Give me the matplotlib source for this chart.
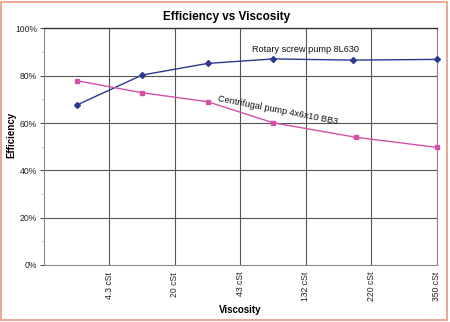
import matplotlib
matplotlib.use("Agg")
import matplotlib.pyplot as plt
from matplotlib.patches import Rectangle
from matplotlib.ticker import MultipleLocator, FuncFormatter

plt.rcParams['font.family'] = ['Liberation Sans', 'DejaVu Sans']

# Data (x in category-grid units, y in %)
categories = ["4.3 cSt", "20 cSt", "43 cSt", "132 cSt", "220 cSt", "350 cSt"]
rotary_x = [0.5, 1.5, 2.5, 3.5, 4.71, 6.0]
rotary_eff = [67.6, 80.3, 85.2, 87.1, 86.6, 86.9]
centrifugal_x = [0.5, 1.5, 2.5, 3.5, 4.76, 6.0]
centrifugal_eff = [77.9, 72.8, 69.0, 60.1, 54.0, 49.7]

fig = plt.figure(figsize=(4.5, 3.22), dpi=100)
fig.patch.set_facecolor('white')
ax = fig.add_axes([44/450, 57/322, (437-44)/450, (265-28.4)/322])

ax.set_xlim(0, 6)
ax.set_ylim(0, 100)

# grid
for k in range(1, 7):
    ax.axvline(k, color='#555555', lw=0.8, zorder=1)
for v in range(20, 100, 20):
    ax.axhline(v, color='#555555', lw=0.8, zorder=1)

ax.plot(rotary_x, rotary_eff, color='#2B3990', lw=1.0, marker='D', ms=3,
        zorder=3, clip_on=False)
ax.plot(centrifugal_x, centrifugal_eff, color='#D64FA8', lw=1.0, marker='s', ms=3.5,
        zorder=3, clip_on=False)

ax.annotate("Rotary screw pump 8L630", xy=(306/450, 1-50/322), xycoords='figure fraction',
            fontsize=6.6, ha='center', va='center', color='#111111')
ax.annotate("Centrifugal pump 4x6x10 BB3", xy=(278/450, 1-110/322), xycoords='figure fraction',
            fontsize=6.6, ha='center', va='center', rotation=-11, color='#111111')

ax.set_xticks(range(1, 7))
ax.set_xticklabels(categories, rotation=90, fontsize=6.2, color='#222222')
ax.yaxis.set_major_locator(MultipleLocator(20))
ax.yaxis.set_minor_locator(MultipleLocator(10))
ax.yaxis.set_major_formatter(FuncFormatter(lambda v, p: f"{int(v)}%"))
ax.tick_params(axis='y', labelsize=6.2, colors='#222222', length=3, width=0.6, pad=2)
ax.tick_params(axis='y', which='minor', length=2, width=0.5, color='#bbbbbb')
ax.tick_params(axis='x', length=0, pad=5)

for s in ['left', 'bottom', 'right']:
    ax.spines[s].set_color('#888888')
    ax.spines[s].set_linewidth(0.8)
ax.spines['top'].set_color('#333333')
ax.spines['top'].set_linewidth(1.0)

ax.set_xlabel("Viscosity", fontsize=7, fontweight='bold')
ax.set_ylabel("Efficiency", fontsize=7, fontweight='bold')
ax.xaxis.set_label_coords((240-44)/(437-44), -(305-265)/(265-28.4))
ax.yaxis.set_label_coords(-(44-16)/(437-44), (265-135)/(265-28.4))

fig.suptitle("Efficiency vs Viscosity", fontsize=8.5, fontweight='bold',
             x=227/450, y=1-17/322, va='center')

# outer border
fig.add_artist(Rectangle((0.5/450, 2/322), 446.5/450, 318.5/322, transform=fig.transFigure,
                         fill=False, edgecolor='#E59A80', lw=1.2))

fig.savefig("out.png", dpi=100)
